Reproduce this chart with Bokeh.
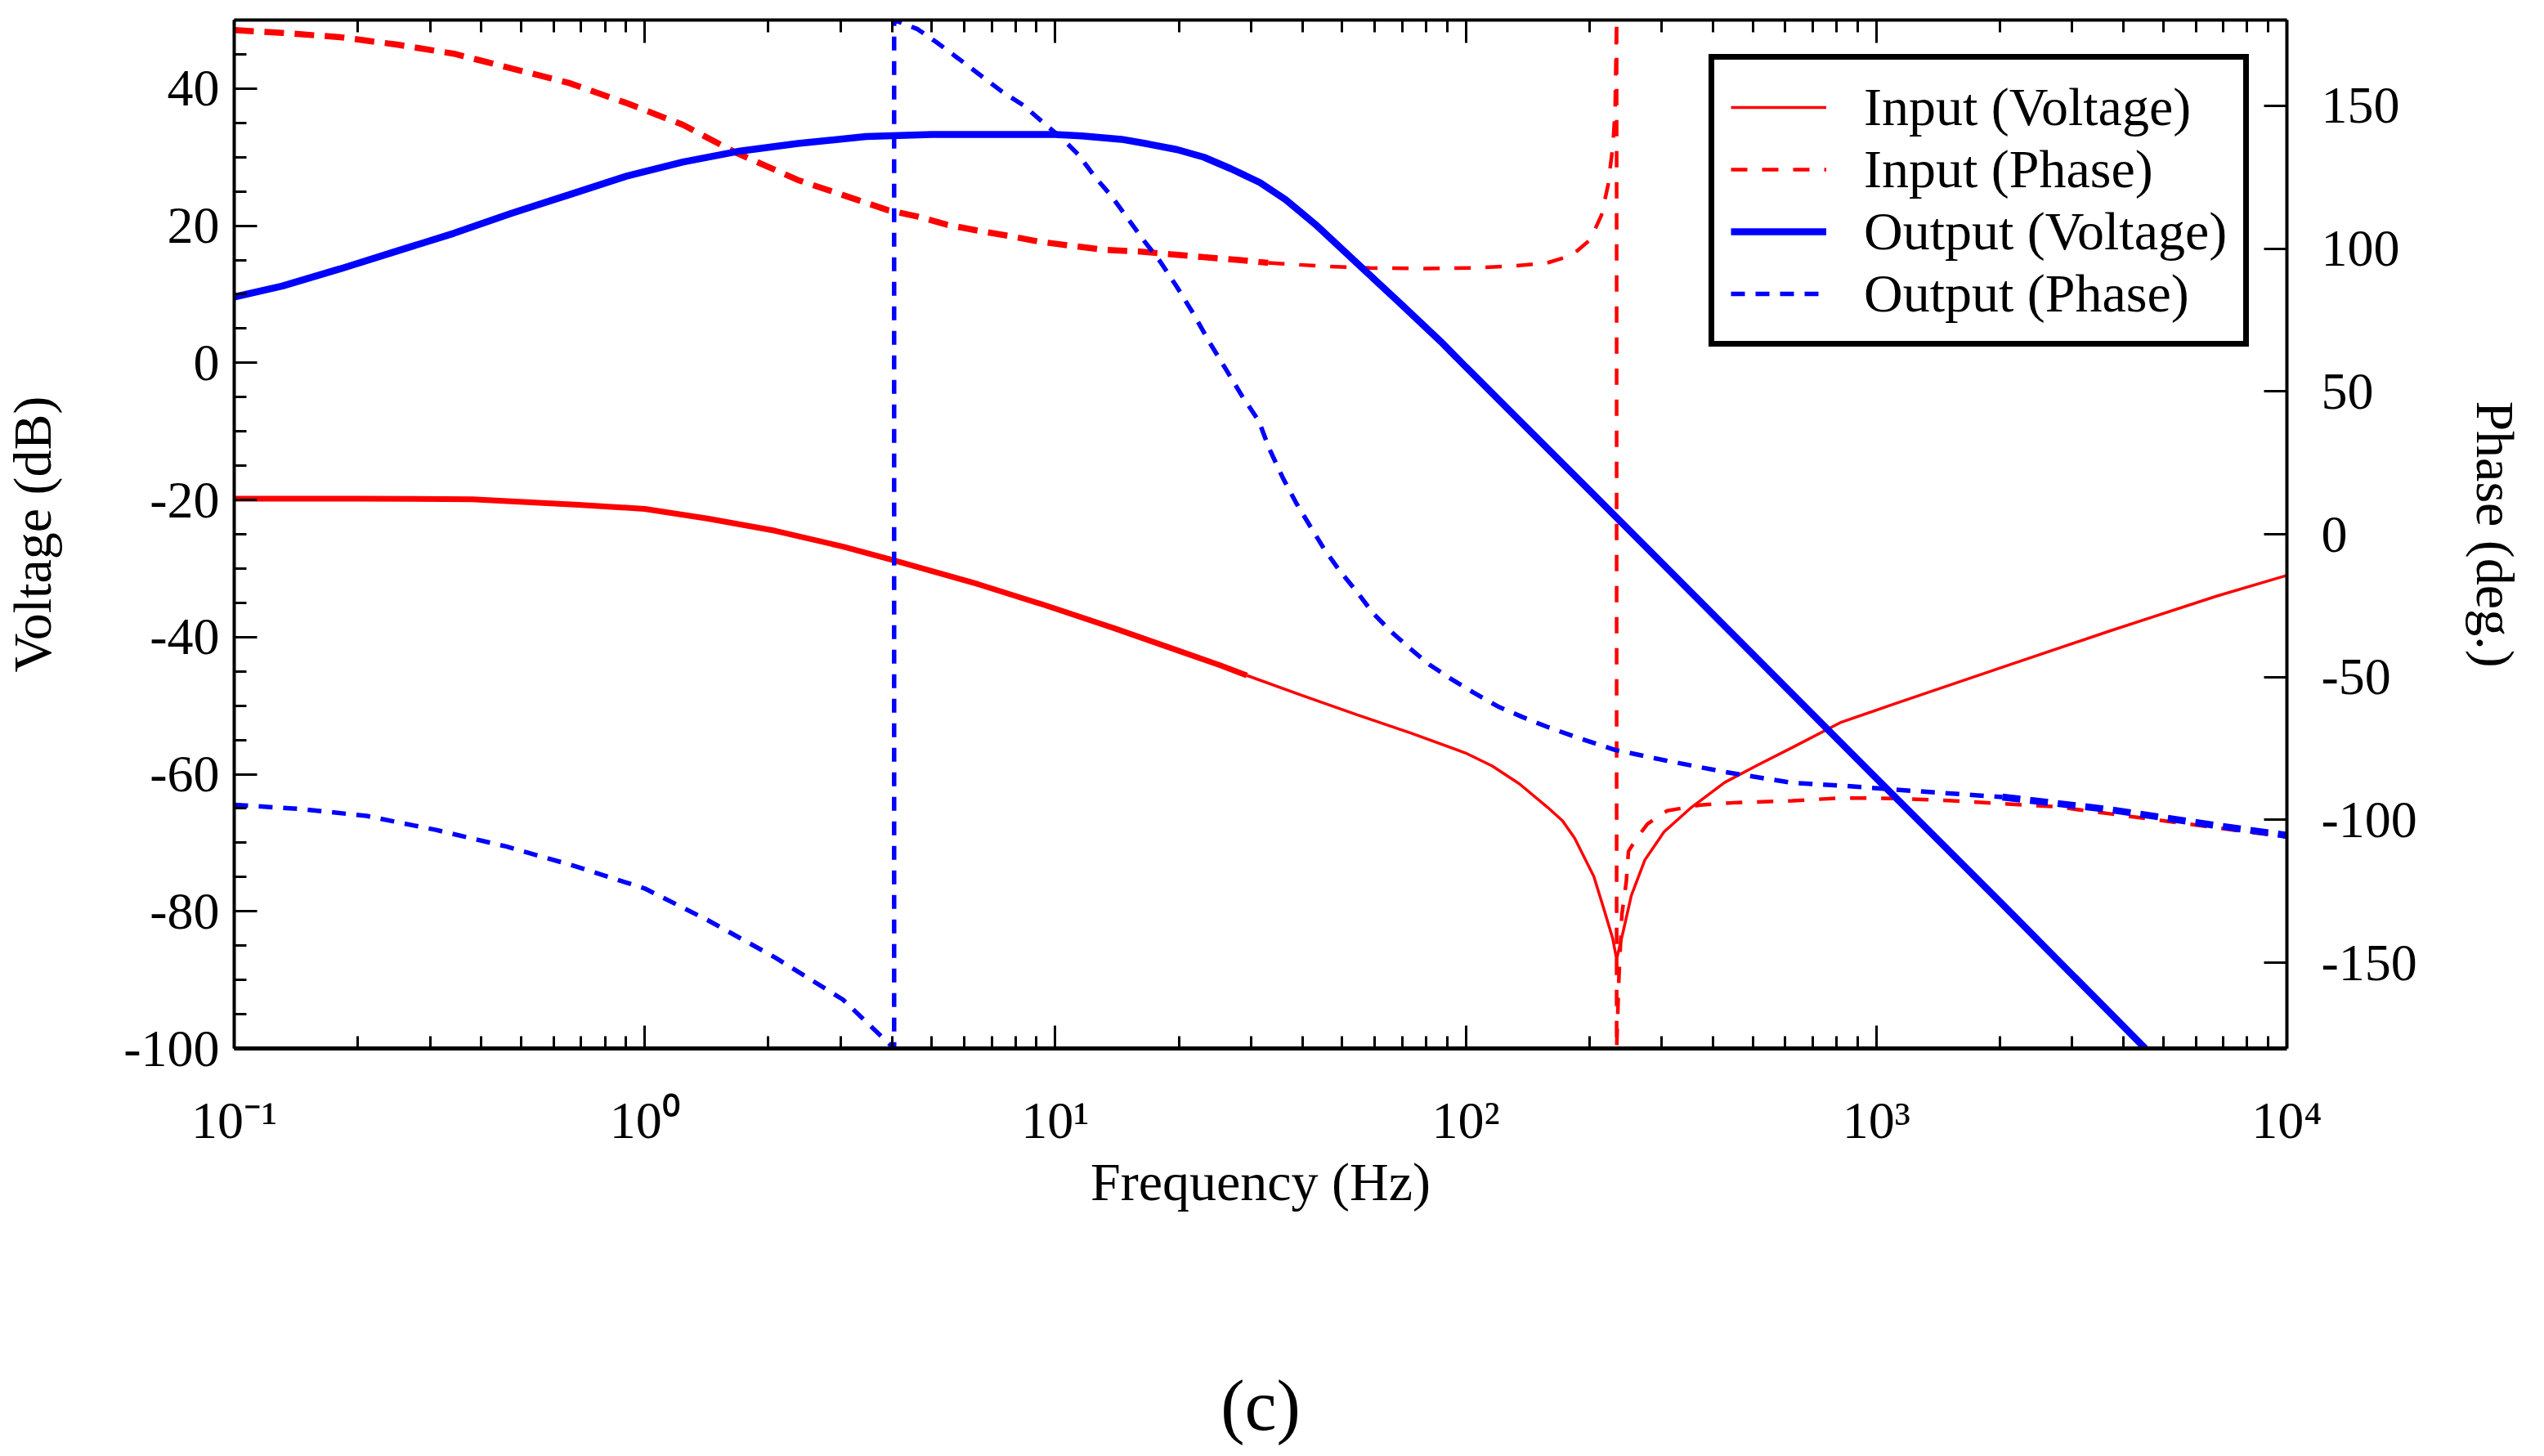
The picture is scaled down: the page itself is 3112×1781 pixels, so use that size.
import numpy as np
from bokeh.plotting import figure
from bokeh.models import (Range1d, LinearAxis, LogAxis, FixedTicker, SingleIntervalTicker,
                          CustomJSTickFormatter, Legend, LegendItem)
from bokeh.embed import file_html
from bokeh.resources import INLINE

# ---------------- data ----------------
in_volt_f = [0.1, 0.2, 0.38, 0.69, 1.0, 1.42, 2.08, 3.04, 4.04, 6.5, 9.5, 13.9, 20, 25.2, 29.3,
             39.9, 54.2, 73.4, 99.8, 116, 135, 158, 172, 184, 205, 217, 228, 233, 242, 253, 273,
             304, 355, 427, 520, 624, 822, 1112, 2028, 3706, 6761, 10000]
in_volt_db = [-19.8, -19.8, -19.9, -20.7, -21.3, -22.7, -24.5, -26.8, -28.8, -32.3, -35.4, -38.7,
              -42.0, -44.1, -45.6, -48.5, -51.3, -54.0, -56.9, -58.8, -61.4, -64.8, -66.8, -69.3,
              -74.9, -79.7, -84.0, -87.0, -82.8, -77.7, -72.5, -68.4, -64.8, -61.2, -58.5, -56.1,
              -52.4, -49.7, -44.4, -39.1, -34.0, -31.0]

in_phase_f = [0.1, 0.131, 0.181, 0.249, 0.343, 0.473, 0.653, 0.9, 1.24, 1.66, 2.36, 3.3, 3.9,
              4.62, 5.47, 6.46, 7.66, 9.06, 10.9, 13.1, 15.9, 19.1, 23, 28, 33, 45, 58.3, 80,
              108, 131, 158, 181, 201, 214, 222, 228, 231, 233, 233, 236, 240, 246, 249, 261,
              277, 309, 372, 459, 624, 822, 1112, 1500, 2740, 5006, 10000]
in_phase_deg = [176.5, 175.5, 174.0, 171.4, 168.2, 163.1, 158.0, 151.0, 143.3, 133.7, 124.0,
                117.0, 113.5, 111.2, 108.3, 106.3, 104.5, 102.5, 101.0, 99.6, 99.0, 98.0, 97.0,
                96.0, 95.0, 93.8, 93.2, 93.0, 93.3, 93.9, 95.0, 97.6, 103.1, 111.7, 122.1, 135.6,
                148.0, 180.0, -180.0, -155.0, -133.0, -121.5, -111.0, -106.3, -101.4, -96.8,
                -94.8, -93.9, -93.3, -92.3, -92.5, -93.2, -95.4, -100.3, -106.0]

out_volt_f = [0.1, 0.131, 0.181, 0.249, 0.343, 0.473, 0.653, 0.9, 1.24, 1.71, 2.36, 3.46, 5,
              10, 11.6, 14.5, 16.9, 19.8, 23, 26.8, 31.5, 36.4, 43, 56.7, 70, 86.9, 100, 200,
              500, 1000, 2000, 4520]
out_volt_db = [9.6, 11.2, 13.7, 16.3, 18.9, 21.8, 24.5, 27.2, 29.3, 30.9, 32.0, 33.0, 33.3,
               33.3, 33.1, 32.6, 31.9, 31.1, 30.0, 28.3, 26.3, 23.8, 20.2, 13.5, 8.4, 3.1, -0.6,
               -18.6, -42.5, -60.6, -78.6, -100.0]

out_phase_f = [0.1, 0.146, 0.21, 0.31, 0.46, 0.67, 1.0, 1.42, 2.08, 3.04, 4.05, 4.05, 4.62,
               5.14, 5.81, 6.57, 7.41, 8.39, 9.31, 10.4, 11.4, 12.5, 13.7, 15.0, 16.4, 18.0,
               19.8, 21.7, 23.7, 26.0, 28.5, 31.3, 33.2, 35.9, 38.6, 41.7, 45.1, 49.4, 54.2,
               59.4, 66.0, 73.3, 81.8, 92.2, 104.4, 119.8, 137.4, 157.7, 187, 231, 314, 427,
               624, 822, 1112, 2028, 3706, 6761, 10000]
out_phase_deg = [-94.7, -96.2, -98.6, -103.5, -109.3, -116.0, -124.0, -135.0, -148.2, -162.9,
                 -180.0, 180.0, 176.8, 172.2, 166.5, 160.7, 155.0, 150.0, 144.3, 138.5, 132.8,
                 125.0, 118.4, 110.6, 103.0, 95.5, 86.5, 77.2, 67.4, 57.9, 48.4, 39.7, 30.0,
                 19.5, 11.0, 3.0, -5.0, -13.0, -20.0, -27.6, -34.3, -40.1, -45.8, -50.7, -55.4,
                 -60.3, -64.0, -67.4, -71.2, -75.5, -79.5, -83.2, -87.0, -88.0, -89.4, -92.0,
                 -96.4, -102.0, -105.4]

x_major_ticks = [0.1, 1, 10, 100, 1000, 10000]
series_labels = ["Input (Voltage)", "Input (Phase)", "Output (Voltage)", "Output (Phase)"]
caption = "(c)"

# ---------------- helpers ----------------
def split_at(f, v, fc):
    f = list(f); v = list(v)
    i = f.index(fc)
    return (f[:i + 1], v[:i + 1]), (f[i:], v[i:])

FONT = "Liberation Serif"
RED = "#ff0000"
BLUE = "#0000ff"

p = figure(frame_width=2511, frame_height=1258, x_axis_type="log",
           x_range=Range1d(0.1, 1e4), y_range=Range1d(-100, 50),
           output_backend="svg", toolbar_location=None,
           min_border_left=286, min_border_right=299, min_border_top=24, min_border_bottom=483)
p.extra_y_ranges = {"phase": Range1d(-180, 180)}
p.xgrid.visible = False
p.ygrid.visible = False
p.outline_line_color = None
p.background_fill_color = "white"
p.border_fill_color = "white"

minor_x = [k * 10.0 ** d for d in range(-1, 4) for k in range(2, 10)]


def style_axis(ax, minor=True):
    ax.axis_line_width = 4
    ax.axis_line_color = "black"
    ax.major_tick_in = 28
    ax.major_tick_out = 0
    ax.minor_tick_in = 15 if minor else 0
    ax.minor_tick_out = 0
    ax.major_tick_line_width = 3
    ax.minor_tick_line_width = 3
    ax.major_tick_line_color = "black"
    ax.minor_tick_line_color = "black" if minor else None
    ax.major_label_text_font = FONT
    ax.major_label_text_font_size = "64px"
    ax.major_label_text_color = "black"
    ax.axis_label_text_font = FONT
    ax.axis_label_text_font_size = "66px"
    ax.axis_label_text_font_style = "normal"
    ax.axis_label_text_color = "black"


sup_code = r"""
const e = Math.round(Math.log10(tick));
const sup = {'-': '\u207B', '0': '\u2070', '1': '\u00B9', '2': '\u00B2', '3': '\u00B3', '4': '\u2074'};
return '10' + String(e).split('').map(c => sup[c]).join('');
"""
int_code = "return Math.round(tick).toString();"

xb = p.xaxis[0]
xb.ticker = FixedTicker(ticks=x_major_ticks, minor_ticks=minor_x)
xb.formatter = CustomJSTickFormatter(code=sup_code)
style_axis(xb)
xb.axis_line_width = 5
xb.major_label_standoff = 52
xb.axis_label = "Frequency (Hz)"
xb.axis_label_standoff = 0

yl = p.yaxis[0]
yl.ticker = SingleIntervalTicker(interval=20, num_minor_ticks=4)
yl.formatter = CustomJSTickFormatter(code=int_code)
style_axis(yl)
yl.major_label_standoff = 18
yl.axis_label = "Voltage (dB)"
yl.axis_label_standoff = 72

yr = LinearAxis(y_range_name="phase", ticker=SingleIntervalTicker(interval=50, num_minor_ticks=0),
                formatter=CustomJSTickFormatter(code=int_code))
style_axis(yr, minor=False)
yr.major_label_standoff = 42
yr.axis_label = "Phase (deg.)"
yr.axis_label_standoff = 56
p.add_layout(yr, "right")

xt = LogAxis(ticker=FixedTicker(ticks=x_major_ticks, minor_ticks=minor_x),
             formatter=CustomJSTickFormatter(code="return '';"))
style_axis(xt)
xt.major_label_standoff = 0
xt.major_label_text_font_size = "1px"
p.add_layout(xt, "above")

# caption below the plot, carried by a bare (tickless, lineless) second bottom axis
cap_ax = LogAxis(ticker=FixedTicker(ticks=[], minor_ticks=[]),
                 formatter=CustomJSTickFormatter(code="return '';"))
cap_ax.axis_line_color = None
cap_ax.major_tick_line_color = None
cap_ax.minor_tick_line_color = None
cap_ax.major_tick_in = 0
cap_ax.major_tick_out = 0
cap_ax.minor_tick_in = 0
cap_ax.minor_tick_out = 0
cap_ax.major_label_standoff = 0
cap_ax.major_label_text_font_size = "1px"
cap_ax.axis_label = caption
cap_ax.axis_label_text_font = FONT
cap_ax.axis_label_text_font_size = "88px"
cap_ax.axis_label_text_font_style = "normal"
cap_ax.axis_label_text_color = "black"
cap_ax.axis_label_standoff = 186
p.add_layout(cap_ax, "below")

# ---------------- lines ----------------
(iv1f, iv1v), (iv2f, iv2v) = split_at(in_volt_f, in_volt_db, 29.3)
r_iv_a = p.line(iv1f, iv1v, line_color=RED, line_width=7)
r_iv_b = p.line(iv2f, iv2v, line_color=RED, line_width=3.5)

(ip1f, ip1v), (ip2f, ip2v) = split_at(in_phase_f, in_phase_deg, 33)
r_ip_a = p.line(ip1f, ip1v, line_color=RED, line_width=7.5, line_dash="24 13", y_range_name="phase")
r_ip_b = p.line(ip2f, ip2v, line_color=RED, line_width=4.5, line_dash="20 18", y_range_name="phase")

r_ov = p.line(out_volt_f, out_volt_db, line_color=BLUE, line_width=8.5)

(op1f, op1v), (op2f, op2v) = split_at(out_phase_f, out_phase_deg, 2028)
r_op_a = p.line(op1f, op1v, line_color=BLUE, line_width=5.5, line_dash="17 13", y_range_name="phase")
r_op_b = p.line(op2f, op2v, line_color=BLUE, line_width=8.5, line_dash="22 12", y_range_name="phase")

# ---------------- legend ----------------
legend = Legend(items=[
    LegendItem(label=series_labels[0], renderers=[r_iv_b]),
    LegendItem(label=series_labels[1], renderers=[r_ip_b]),
    LegendItem(label=series_labels[2], renderers=[r_ov]),
    LegendItem(label=series_labels[3], renderers=[r_op_a]),
], location=(1804, 858))
legend.label_text_font = FONT
legend.label_text_font_size = "66px"
legend.label_text_color = "black"
legend.label_height = 76
legend.glyph_height = 40
legend.glyph_width = 117
legend.label_standoff = 46
legend.spacing = 0
legend.padding = 20
legend.margin = 0
legend.border_line_color = "black"
legend.border_line_alpha = 1.0
legend.border_line_width = 7
legend.background_fill_color = "white"
legend.background_fill_alpha = 1.0
p.add_layout(legend)

open("out.html", "w").write(file_html(p, INLINE))
